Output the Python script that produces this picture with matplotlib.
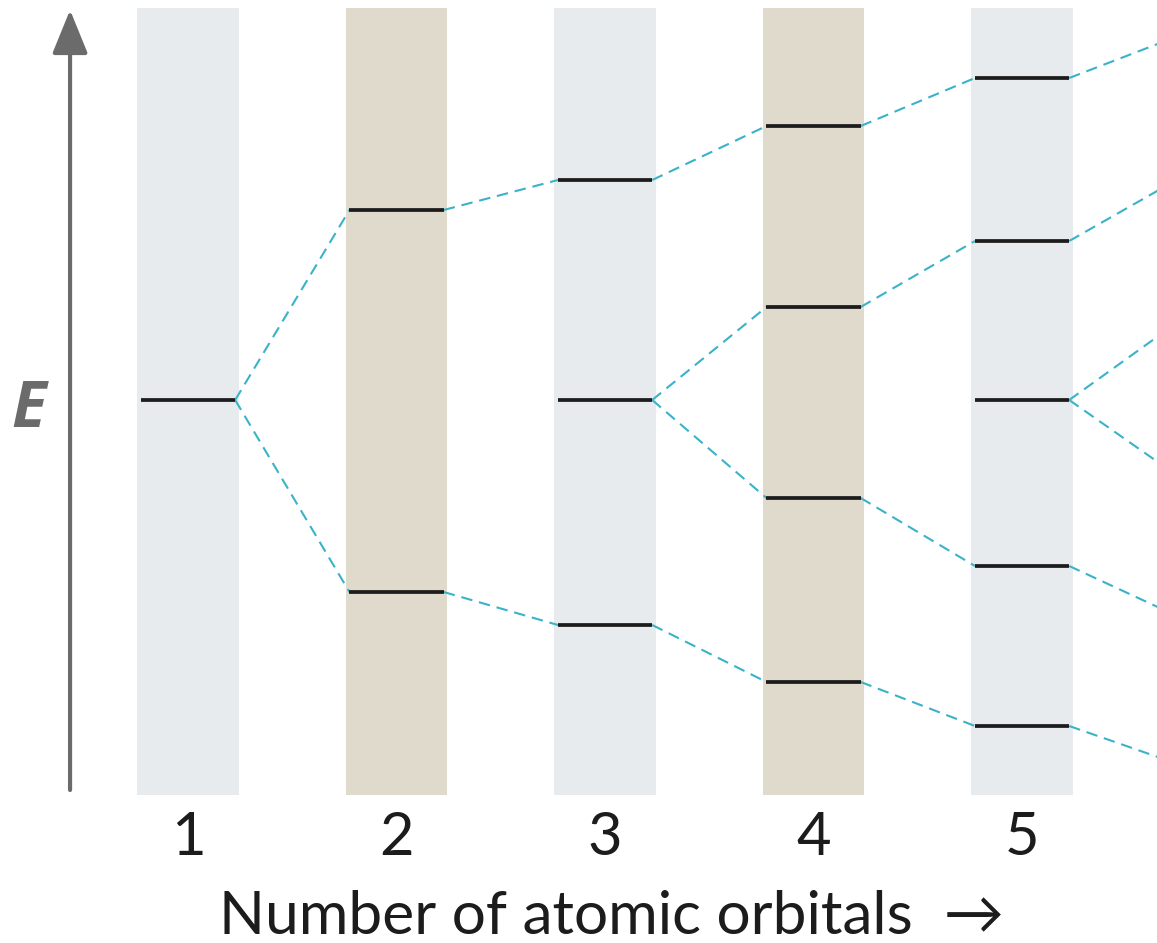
import matplotlib.pyplot as plt

# number of atomic orbitals per column (column 6 lies just past the right edge)
columns = [1, 2, 3, 4, 5, 6]
tick_labels = ['1', '2', '3', '4', '5']

# energy of each molecular orbital level, top to bottom (arbitrary units)
levels = {
    1: [0.0],
    2: [1.9, -1.92],
    3: [2.2, 0.0, -2.25],
    4: [2.74, 0.93, -0.98, -2.82],
    5: [3.22, 1.59, 0.0, -1.66, -3.26],
    6: [3.66, 2.24, 0.82, -0.8, -2.19, -3.66],
}

# (column, level in column, level in next column) joined by a dashed line
links = [
    (1, 0, 0), (1, 0, 1),
    (2, 0, 0), (2, 1, 2),
    (3, 0, 0), (3, 1, 1), (3, 1, 2), (3, 2, 3),
    (4, 0, 0), (4, 1, 1), (4, 2, 3), (4, 3, 4),
    (5, 0, 0), (5, 1, 1), (5, 2, 2), (5, 2, 3), (5, 3, 4), (5, 4, 5),
]

col_colors = {1: '#e8ebee', 2: '#e0dacc', 3: '#e8ebee', 4: '#e0dacc', 5: '#e8ebee', 6: '#e0dacc'}

fig = plt.figure(figsize=(11.57, 9.43), dpi=100)
ax = fig.add_axes([0, 0, 1, 1])
ax.set_xlim(0.098, 5.647)
ax.set_ylim(-5.43, 4.0)
ax.axis('off')

half_col = 0.243
half_lvl = 0.226

# shaded columns
for c in columns:
    ax.axvspan(c - half_col, c + half_col, ymin=(-3.95 + 5.43) / 9.43, ymax=(3.92 + 5.43) / 9.43,
               color=col_colors[c], lw=0, zorder=0)

# energy levels
for c in columns:
    for e in levels[c]:
        ax.plot([c - half_lvl, c + half_lvl], [e, e], color='#1c1c1c', lw=2.7,
                solid_capstyle='butt', zorder=3)

# dashed correlation lines
for c, i, j in links:
    ax.plot([c + half_lvl, c + 1 - half_lvl], [levels[c][i], levels[c + 1][j]],
            color='#3ab2c8', lw=1.5, dashes=(5.5, 3.3), zorder=2)

# energy axis arrow
ax.annotate('', xy=(0.434, 3.9), xytext=(0.434, -3.9),
            arrowprops=dict(arrowstyle='-|>,head_length=1.35,head_width=0.55',
                            mutation_scale=20, lw=3, color='#6b6b6b',
                            shrinkA=0, shrinkB=0))
ax.text(0.235, -0.27, 'E', fontsize=46, fontweight='bold', fontstyle='italic',
        color='#6b6b6b', ha='center', va='baseline', family=['Open Sans', 'DejaVu Sans'])

# column numbers
for c, lab in zip(columns, tick_labels):
    ax.text(c, -4.55, lab, fontsize=43, color='#1c1c1c', ha='center', va='baseline',
            family=['Lato', 'DejaVu Sans'])

ax.text(3.03, -5.34, 'Number of atomic orbitals  \u2192', fontsize=43.5, color='#1c1c1c',
        ha='center', va='baseline', family=['Lato', 'DejaVu Sans'])

fig.savefig('out.png', dpi=100)
